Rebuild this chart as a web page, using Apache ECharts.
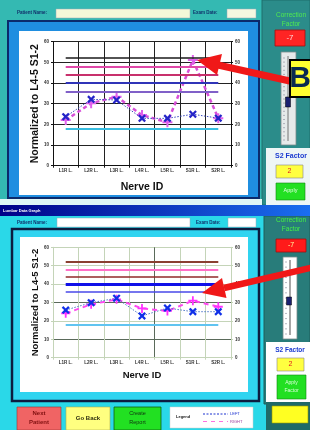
<!DOCTYPE html>
<html>
<head>
<meta charset="utf-8">
<script src="https://cdn.jsdelivr.net/npm/echarts@6/dist/echarts.min.js"></script>
<style>
  html, body { margin: 0; padding: 0; background: #2fb7b3; }
  #chart { width: 310px; height: 430px; }
</style>
</head>
<body>
<div id="chart"></div>
<script>
// nerve ids on the x axis
const categories = ['L1R L.', 'L2R L.', 'L3R L.', 'L4R L.', 'L5R L.', 'S1R L.', 'S2R L.'];
// y axis 0..60
const yMin = 0, yMax = 60, yStep = 10;

// upper screen
const topLeft  = [23.7, 32.1, 31.8, 22.9, 22.9, 24.9, 23.0];
const topRight = [22.1, 30.2, 33.4, 24.5, 21.0, 51.1, 23.0];
const topRefs  = [52, 48, 44, 40, 36, 18];

// lower screen
const botLeft  = [25.9, 29.9, 32.3, 22.7, 27.0, 25.0, 25.0];
const botRight = [24.1, 29.0, 31.7, 26.8, 25.4, 31.0, 27.7];
const botRefs  = [52, 48, 44, 40, 36, 18];

// reference line styles
const topRefColors = ['#1a1a1a', '#e048a8', '#c8306c', '#3034b8', '#8060c8', '#38bde0'];
const topRefWidths = [1.5, 2, 2, 2, 2, 2];
const botRefColors = ['#8a4030', '#ff70c8', '#902828', '#1010e8', '#4848e8', '#60c4f0'];
const botRefWidths = [2, 2, 1.5, 3, 1.5, 2];

const FONT = '"Liberation Sans", Arial, sans-serif';
const X_SYM = 'path://M0,2L2,0L5,3L8,0L10,2L7,5L10,8L8,10L5,7L2,10L0,8L3,5Z';
const P_SYM = 'path://M4,0H6V4H10V6H6V10H4V6H0V4H4Z';

function refMarks(refs, colors, widths) {
  return refs.map((v, i) => [
    { coord: [categories[0], v], lineStyle: { color: colors[i], width: widths[i], type: 'solid' } },
    { coord: [categories[categories.length - 1], v] }
  ]);
}

function txt(x, y, text, font, fill, align, extra) {
  return Object.assign({
    type: 'text', z: 5,
    style: { x: x, y: y, text: text, font: font, fill: fill,
             textAlign: align || 'center', textVerticalAlign: 'middle' }
  }, extra || {});
}
function box(x, y, w, h, fill, stroke, lw, z) {
  return { type: 'rect', z: z == null ? -10 : z, shape: { x: x, y: y, width: w, height: h },
           style: { fill: fill, stroke: stroke || null, lineWidth: lw || 0 } };
}

// slider tick marks (decoration)
function sliderTicks(x, y0, y1, n, color) {
  const out = [];
  for (let i = 0; i <= n; i++) {
    const y = y0 + (y1 - y0) * i / n;
    out.push({ type: 'line', z: -5, shape: { x1: x, y1: y, x2: x + 2, y2: y },
               style: { stroke: color, lineWidth: 0.6 } });
  }
  return out;
}

const bg = [
  // upper screen background
  box(0, 0, 310, 205, '#34b9b2'),
  box(262, 0, 48, 205, '#2b8c8a', '#1f6e6c', 1),
  // upper chart frame
  box(8, 21, 251, 177, '#1f8ee0', '#0b2a6b', 2),
  box(19, 31, 229, 164, '#ffffff'),
  // gap
  box(0, 199, 262, 6, '#dff6f6'),
  // lower screen
  box(0, 205, 310, 225, '#2ad8e8'),
  { type: 'rect', z: -9, shape: { x: 0, y: 205, width: 310, height: 11 },
    style: { fill: { type: 'linear', x: 0, y: 0, x2: 1, y2: 0,
      colorStops: [{ offset: 0, color: '#000088' }, { offset: 1, color: '#1a6ef0' }] } } },
  box(264, 216, 46, 188, '#287c7a', '#1c5c5a', 1),
  box(12, 229, 247, 172, '#30d4f0', '#0c1c40', 2.5),
  box(20, 237, 228, 155, '#ffffff'),
  box(266, 402, 44, 28, '#1f6a68'),

  // upper header
  txt(17, 13, 'Patient Name:', 'bold 4.5px ' + FONT, '#10306a', 'left'),
  box(56, 9, 134, 9, '#f4f8d8', '#9ab', 0.5),
  txt(193, 13, 'Exam Date:', 'bold 4.5px ' + FONT, '#10306a', 'left'),
  box(227, 9, 29, 9, '#f4f8e0', '#9ab', 0.5),
  // lower header
  txt(3, 210.5, 'Lumbar Data Graph', 'bold 4px ' + FONT, '#ffffff', 'left'),
  txt(17, 222.5, 'Patient Name:', 'bold 4.5px ' + FONT, '#10306a', 'left'),
  box(57, 218, 133, 9, '#ffffff', '#9ab', 0.5),
  txt(196, 222.5, 'Exam Date:', 'bold 4.5px ' + FONT, '#10306a', 'left'),
  box(228, 218, 28, 9, '#ffffff', '#9ab', 0.5),

  // upper right panel
  txt(291, 15, 'Correction', '6.5px ' + FONT, '#50ea50'),
  txt(291, 24, 'Factor', '6.5px ' + FONT, '#50ea50'),
  box(275, 30, 30, 16, '#ff2424', '#a01010', 0.8),
  txt(290, 38, '-7', '8px ' + FONT, '#ffd8d8'),
  box(281, 52, 15, 93, '#e6eaea', '#7a8a8a', 0.8),
  { type: 'line', z: -5, shape: { x1: 288, y1: 56, x2: 288, y2: 141 }, style: { stroke: '#555', lineWidth: 0.8 } },
  box(285.5, 97, 5, 10, '#1a2070', '#000', 0.5, -4),
  box(266, 148, 46, 57, '#eef6f6'),
  txt(291, 156, 'S2 Factor', 'bold 7px ' + FONT, '#1a3ad0'),
  box(276, 165, 27, 13, '#ffff40', '#888', 0.6),
  txt(289.5, 171.5, '2', '7px ' + FONT, '#e02020'),
  box(276, 183, 29, 17, '#22e022', '#118811', 0.6),
  txt(290.5, 190, 'Apply', '5.5px ' + FONT, '#e8ffe8'),

  // lower right panel
  txt(291, 220, 'Correction', '6.5px ' + FONT, '#44f044'),
  txt(291, 229, 'Factor', '6.5px ' + FONT, '#44f044'),
  box(276, 239, 30, 13, '#ff1a1a', '#a01010', 0.8),
  txt(291, 245.5, '-7', '7px ' + FONT, '#ffffa0'),
  box(283, 257, 14, 82, '#ffffff', '#7a8a8a', 0.8),
  { type: 'line', z: -5, shape: { x1: 290, y1: 260, x2: 290, y2: 335 }, style: { stroke: '#222', lineWidth: 0.8 } },
  box(286.5, 297, 5, 8, '#1a2070', '#000', 0.5, -4),
  box(266, 342, 44, 60, '#ffffff'),
  txt(290, 350, 'S2 Factor', 'bold 6.5px ' + FONT, '#1a3ad0'),
  box(277, 358, 27, 13, '#ffff40', '#888', 0.6),
  txt(290.5, 364.5, '2', '7px ' + FONT, '#e02020'),
  box(277, 375, 29, 24, '#22e022', '#118811', 0.6),
  txt(291.5, 383, 'Apply', '5px ' + FONT, '#d8ffd8'),
  txt(291.5, 391, 'Factor', '5px ' + FONT, '#d8ffd8'),
  box(272, 406, 36, 17, '#ffff22', '#999900', 0.6),

  // lower buttons
  box(17, 407, 44, 23, '#f06464', '#a03030', 0.6),
  txt(39, 413, 'Next', 'bold 6px ' + FONT, '#801010'),
  txt(39, 422, 'Patient', 'bold 6px ' + FONT, '#801010'),
  box(66, 407, 44, 23, '#ffff80', '#b0b050', 0.6),
  txt(88, 418, 'Go Back', 'bold 6px ' + FONT, '#303010'),
  box(114, 407, 47, 23, '#22e022', '#106010', 0.8),
  txt(137.5, 413, 'Create', '5.5px ' + FONT, '#103010'),
  txt(137.5, 422, 'Report', '5.5px ' + FONT, '#103010'),
  box(170, 407, 83, 21, '#ffffff', '#ccc', 0.5),
  txt(176, 417, 'Legend', 'bold 4px ' + FONT, '#202020', 'left'),
  { type: 'line', z: 5, shape: { x1: 203, y1: 414, x2: 228, y2: 414 },
    style: { stroke: '#1a30d0', lineWidth: 1, lineDash: [2, 1.5] } },
  txt(230, 414, 'LEFT', '4px ' + FONT, '#1a30d0', 'left'),
  { type: 'line', z: 5, shape: { x1: 203, y1: 421.5, x2: 228, y2: 421.5 },
    style: { stroke: '#ff70e0', lineWidth: 1.2, lineDash: [4, 4] } },
  txt(230, 421.5, 'RIGHT', '4px ' + FONT, '#a040a0', 'left')
].concat(sliderTicks(283, 58, 140, 20, '#889'), sliderTicks(285, 262, 334, 14, '#889'));

const overlay = [
  // upper arrow
  { type: 'line', z: 50, shape: { x1: 218, y1: 65, x2: 292, y2: 81.5 },
    style: { stroke: '#f01818', lineWidth: 7 } },
  { type: 'polygon', z: 50, shape: { points: [[197, 60], [217, 75], [222, 54]] },
    style: { fill: '#f01818' } },
  // B label
  box(290, 60, 24, 37, '#ffff30', '#000000', 2, 60),
  txt(300, 79, 'B', 'bold 30px ' + FONT, '#0a2a50', 'center', { z: 61 }),
  // lower arrow
  { type: 'line', z: 50, shape: { x1: 224, y1: 288, x2: 312, y2: 267.5 },
    style: { stroke: '#f01818', lineWidth: 6.5 } },
  { type: 'polygon', z: 50, shape: { points: [[202, 293], [226.5, 298], [222, 278]] },
    style: { fill: '#f01818' } }
];

const tickLabel = { fontSize: 4.5, fontFamily: FONT, fontWeight: 'bold', color: '#303030' };
const axisName = (size) => ({ fontSize: size, fontWeight: 'bold', fontFamily: FONT, color: '#111' });

function yAx(gridIndex, pos, lineColor, splitColors, nameSize, nameGap) {
  const ax = {
    type: 'value', gridIndex: gridIndex, position: pos,
    min: yMin, max: yMax, interval: yStep,
    axisLine: { show: true, lineStyle: { color: lineColor, width: 1 } },
    axisTick: { show: true, length: 2, lineStyle: { color: lineColor } },
    axisLabel: Object.assign({ margin: 4 }, tickLabel),
    splitLine: { show: pos === 'left', lineStyle: { color: splitColors, width: 1 } }
  };
  if (pos === 'left') {
    ax.name = 'Normalized to L4-5 S1-2';
    ax.nameLocation = 'middle';
    ax.nameGap = nameGap;
    ax.nameMoveOverlap = false;
    ax.nameTextStyle = axisName(nameSize);
  }
  return ax;
}
function xAx(gridIndex, lineColor, splitColors, nameSize, nameGap) {
  return {
    type: 'category', gridIndex: gridIndex, data: categories, boundaryGap: true,
    name: 'Nerve ID', nameLocation: 'middle', nameGap: nameGap, nameMoveOverlap: false,
    nameTextStyle: axisName(nameSize),
    axisLine: { show: true, lineStyle: { color: lineColor } },
    axisTick: { show: true, length: 2, lineStyle: { color: lineColor } },
    axisLabel: Object.assign({ margin: 3, interval: 0 }, tickLabel),
    splitLine: { show: true, lineStyle: { color: splitColors, width: 1 } }
  };
}

const L = '#c4d4b8', D = '#5a6a5a';

const option = {
  animation: false,
  grid: [
    { left: 53, top: 41.7, width: 178, height: 124 },
    { left: 53, top: 247.3, width: 178, height: 110.4 }
  ],
  xAxis: [
    xAx(0, '#111', '#222', 10.5, 15.5),
    xAx(1, L, [L, L, L, L, D, L, L, L], 9.5, 12.5)
  ],
  yAxis: [
    yAx(0, 'left', '#111', '#222', 10.5, 12),
    yAx(0, 'right', '#111', '#222', 10.5, 12),
    yAx(1, 'left', L, [L, D, L, D, L, L, L], 9.5, 13),
    yAx(1, 'right', L, L, 9.5, 13)
  ],
  graphic: bg.concat(overlay),
  series: [
    { name: 'ref-top', type: 'line', xAxisIndex: 0, yAxisIndex: 0, data: [], z: 1, silent: true,
      markLine: { silent: true, symbol: 'none', label: { show: false },
                  data: refMarks(topRefs, topRefColors, topRefWidths) } },
    { name: 'LEFT', type: 'line', xAxisIndex: 0, yAxisIndex: 0, data: topLeft, z: 4,
      symbol: X_SYM, symbolSize: 8,
      itemStyle: { color: '#2424c8', borderWidth: 0 },
      lineStyle: { color: '#3a4ac0', width: 1, type: [1.5, 1.5] } },
    { name: 'RIGHT', type: 'line', xAxisIndex: 0, yAxisIndex: 0, data: topRight, z: 3,
      symbol: P_SYM, symbolSize: 10,
      itemStyle: { color: '#e060ec', borderWidth: 0 },
      lineStyle: { color: '#d850d8', width: 2.5, type: [4, 3] } },

    { name: 'ref-bottom', type: 'line', xAxisIndex: 1, yAxisIndex: 2, data: [], z: 1, silent: true,
      markLine: { silent: true, symbol: 'none', label: { show: false },
                  data: refMarks(botRefs, botRefColors, botRefWidths) } },
    { name: 'LEFT', type: 'line', xAxisIndex: 1, yAxisIndex: 2, data: botLeft, z: 4,
      symbol: X_SYM, symbolSize: 8,
      itemStyle: { color: '#1030e8', borderWidth: 0 },
      lineStyle: { color: '#5078c8', width: 1, type: [1.5, 1.5] } },
    { name: 'RIGHT', type: 'line', xAxisIndex: 1, yAxisIndex: 2, data: botRight, z: 3,
      symbol: P_SYM, symbolSize: 9,
      itemStyle: { color: '#ff30ff', borderWidth: 0 },
      lineStyle: { color: '#ff48f0', width: 2, type: [5, 4] } }
  ]
};

const chart = echarts.init(document.getElementById('chart'), null, { renderer: 'canvas' });
chart.setOption(option);
</script>
</body>
</html>
